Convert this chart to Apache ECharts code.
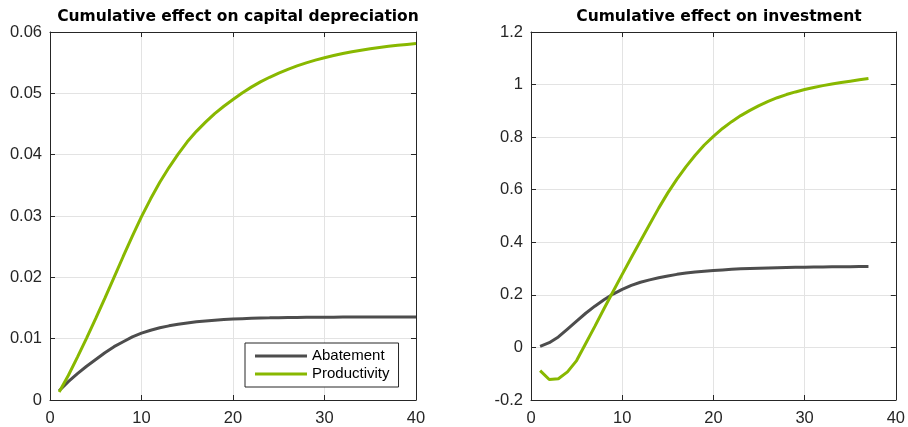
<!DOCTYPE html>
<html><head><meta charset="utf-8">
<script src="https://cdn.jsdelivr.net/npm/echarts@6/dist/echarts.min.js"></script>
<style>html,body{margin:0;padding:0;background:#fff}#c{width:908px;height:427px}</style>
</head><body><div id="c"></div>
<script>
var titles = ['Cumulative effect on capital depreciation', 'Cumulative effect on investment'];
var seriesNames = ['Abatement', 'Productivity'];
var periodsLeft = [];
for (var i = 1; i <= 40; i++) periodsLeft.push(i);
var periodsRight = [];
for (var j = 1; j <= 37; j++) periodsRight.push(j);

var deprAbatement = [0.0015,0.0030,0.0043,0.0055,0.0066,0.0077,0.0087,0.0095,0.0103,0.0109,
  0.01138,0.01177,0.01209,0.01235,0.01257,0.01275,0.01289,0.01301,0.01311,0.01319,
  0.01325,0.01331,0.01335,0.01339,0.01342,0.01344,0.01346,0.01348,0.01349,0.0135,
  0.01351,0.01352,0.01352,0.01353,0.01353,0.01354,0.01354,0.01354,0.01355,0.01355];
var deprProductivity = [0.0013,0.0040,0.0070,0.0101,0.0133,0.0166,0.0200,0.0234,0.0267,0.0299,
  0.0328,0.0355,0.0379,0.0401,0.0421,0.0438,0.0453,0.0467,0.0479,0.0490,
  0.05006,0.05101,0.05186,0.05262,0.05331,0.05392,0.05447,0.05497,0.05541,0.05581,
  0.05617,0.05649,0.05678,0.05703,0.05727,0.05747,0.05766,0.05783,0.05798,0.05811];
var invAbatement = [0.004,0.018,0.040,0.070,0.100,0.130,0.157,0.181,0.203,0.221,
  0.236,0.248,0.257,0.265,0.272,0.278,0.283,0.287,0.290,0.293,
  0.295,0.297,0.299,0.300,0.301,0.302,0.303,0.304,0.305,0.305,
  0.306,0.306,0.307,0.307,0.307,0.308,0.308];
var invProductivity = [-0.088,-0.122,-0.119,-0.093,-0.050,0.015,0.080,0.147,0.213,0.278,
  0.342,0.405,0.468,0.530,0.588,0.640,0.688,0.731,0.770,0.803,
  0.833,0.859,0.882,0.902,0.920,0.936,0.950,0.962,0.972,0.981,
  0.989,0.996,1.002,1.008,1.013,1.018,1.023];

var leftYTicks = ['0','0.01','0.02','0.03','0.04','0.05','0.06'];
var rightYTicks = ['-0.2','0','0.2','0.4','0.6','0.8','1','1.2'];
var xTicks = ['0','10','20','30','40'];

function pairs(xs, ys) { return xs.map(function (x, k) { return [x, ys[k]]; }); }

var axisCol = '#262626';
var gridCol = '#e3e3e3';
var font = '"Liberation Sans", Arial, Helvetica, sans-serif';
var titleFont = '"DejaVu Sans", "Liberation Sans", Arial, sans-serif';
var grayC = '#4d4d4d', greenC = '#88b800';
var tickFs = 16.5;

function xAx(gi, pos, show) {
  return {
    type: 'value', gridIndex: gi, position: pos, min: 0, max: 40, interval: 10,
    axisLine: { show: true, onZero: false, lineStyle: { color: axisCol, width: 1 } },
    axisTick: { show: true, inside: true, length: 5, lineStyle: { color: axisCol } },
    axisLabel: { show: show, color: axisCol, fontSize: tickFs, fontFamily: font, margin: 10,
      formatter: function (v) { return xTicks[Math.round(v / 10)]; } },
    splitLine: { show: show, lineStyle: { color: gridCol, width: 1 } }
  };
}
function yAx(gi, pos, show, min, max, step, labels) {
  return {
    type: 'value', gridIndex: gi, position: pos, min: min, max: max, interval: step,
    axisLine: { show: true, onZero: false, lineStyle: { color: axisCol, width: 1 } },
    axisTick: { show: true, inside: true, length: 5, lineStyle: { color: axisCol } },
    axisLabel: { show: show, color: axisCol, fontSize: tickFs, fontFamily: font, margin: 8,
      formatter: function (v) { return labels[Math.round((v - min) / step)]; } },
    splitLine: { show: show, lineStyle: { color: gridCol, width: 1 } }
  };
}

var chart = echarts.init(document.getElementById('c'), null, { renderer: 'canvas' });
chart.setOption({
  animation: false,
  backgroundColor: '#fff',
  title: [
    { text: titles[0], left: 233, top: 4, textAlign: 'center',
      textStyle: { fontSize: 15.5, fontWeight: 'bold', color: '#000', fontFamily: titleFont } },
    { text: titles[1], left: 714, top: 4, textAlign: 'center',
      textStyle: { fontSize: 15.5, fontWeight: 'bold', color: '#000', fontFamily: titleFont } }
  ],
  grid: [
    { left: 50, right: 492, top: 32, bottom: 23, show: false },
    { left: 531, right: 11, top: 32, bottom: 23, show: false }
  ],
  legend: {
    data: seriesNames, orient: 'vertical', left: 245, top: 343,
    backgroundColor: '#fff', borderColor: axisCol, borderWidth: 1,
    padding: [4, 9, 4, 10], itemGap: 0, itemWidth: 52, itemHeight: 3,
    icon: 'rect',
    textStyle: { fontSize: 15, lineHeight: 18, color: '#000', fontFamily: font }
  },
  xAxis: [xAx(0, 'bottom', true), xAx(0, 'top', false), xAx(1, 'bottom', true), xAx(1, 'top', false)],
  yAxis: [
    yAx(0, 'left', true, 0, 0.06, 0.01, leftYTicks),
    yAx(0, 'right', false, 0, 0.06, 0.01, leftYTicks),
    yAx(1, 'left', true, -0.2, 1.2, 0.2, rightYTicks),
    yAx(1, 'right', false, -0.2, 1.2, 0.2, rightYTicks)
  ],
  series: [
    { name: seriesNames[0], type: 'line', xAxisIndex: 0, yAxisIndex: 0, symbol: 'none',
      data: pairs(periodsLeft, deprAbatement), lineStyle: { color: grayC, width: 3 }, itemStyle: { color: grayC } },
    { name: seriesNames[1], type: 'line', xAxisIndex: 0, yAxisIndex: 0, symbol: 'none',
      data: pairs(periodsLeft, deprProductivity), lineStyle: { color: greenC, width: 3 }, itemStyle: { color: greenC } },
    { name: seriesNames[0], type: 'line', xAxisIndex: 2, yAxisIndex: 2, symbol: 'none',
      data: pairs(periodsRight, invAbatement), lineStyle: { color: grayC, width: 3 }, itemStyle: { color: grayC } },
    { name: seriesNames[1], type: 'line', xAxisIndex: 2, yAxisIndex: 2, symbol: 'none',
      data: pairs(periodsRight, invProductivity), lineStyle: { color: greenC, width: 3 }, itemStyle: { color: greenC } }
  ]
});
</script>
</body></html>
